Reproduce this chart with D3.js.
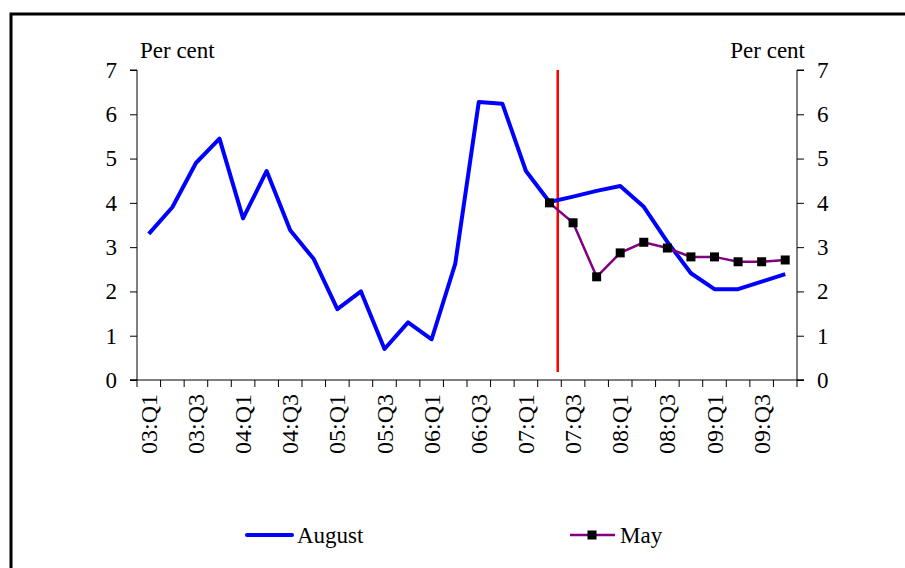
<!DOCTYPE html>
<html lang="en">
<head>
<meta charset="UTF-8">
<script src="https://d3js.org/d3.v7.min.js"></script>
<title>August vs May</title>
<style>
    html, body { margin: 0; padding: 0; background: #fff; }
    svg { display: block; }
    text { font-family: 'Liberation Serif', 'Times New Roman', serif; fill: #000; }
    .axis text { font-size: 23px; font-family: 'Liberation Serif', 'Times New Roman', serif; }
    .axis text.xlbl { font-size: 24px; }
    .axis path, .axis line { stroke: #000; stroke-width: 1; }
</style>
</head>
<body>
<svg id="canvas"></svg>
<script>
let quarters = []
const years = ['03', '04', '05', '06', '07', '08', '09']
years.forEach(y => { for (let q = 1; q <= 4; q++) quarters.push(y + ':Q' + q) })

const august = [3.3, 3.9, 4.9, 5.45, 3.65, 4.72, 3.38, 2.73, 1.6, 2.0, 0.7, 1.3, 0.92, 2.62,
                6.28, 6.24, 4.72, 4.02, 4.14, 4.27, 4.38, 3.91, 3.12, 2.41, 2.05, 2.05, 2.22, 2.39]
const may = [null, null, null, null, null, null, null, null, null, null, null, null, null, null,
             null, null, null, 4.0, 3.55, 2.33, 2.87, 3.11, 2.98, 2.78, 2.78, 2.67, 2.67, 2.71]
const yTicks = [0, 1, 2, 3, 4, 5, 6, 7]
// red marker line, in category units (index of quarter), from 0.18 to 7
const marker = { at: 17.85, from: 0.18, to: 7 }

let width = 905
let height = 568
let mLeft = 137, mRight = 797, mTop = 70, mBottom = 380

let svg = d3.select('svg').attr('width', width).attr('height', height)

// frame
svg.append('rect')
    .attr('x', 11).attr('y', 14)
    .attr('width', 1000).attr('height', 1000)
    .attr('fill', 'none').attr('stroke', '#000').attr('stroke-width', 3)

let xScale = d3.scaleBand().domain(quarters).range([mLeft, mRight]).padding(0)
let xPos = d => xScale(d) + xScale.bandwidth() / 2
let yScale = d3.scaleLinear().domain([0, 7]).range([mBottom, mTop])

// axes
let yLeft = d3.axisLeft(yScale).tickValues(yTicks).tickFormat(d3.format('d')).tickSize(7).tickPadding(13)
let yRight = d3.axisRight(yScale).tickValues(yTicks).tickFormat(d3.format('d')).tickSize(7).tickPadding(13)
svg.append('g').attr('class', 'axis').attr('transform', 'translate(' + mLeft + ',0)').call(yLeft)
    .call(g => g.select('.domain').attr('d', 'M-7,' + mTop + 'H0V' + mBottom + 'H-7'))
    .call(g => g.attr('font-family', null).attr('font-size', null))
svg.append('g').attr('class', 'axis').attr('transform', 'translate(' + mRight + ',0)').call(yRight)
    .call(g => g.select('.domain').attr('d', 'M7,' + mTop + 'H0V' + mBottom + 'H7'))
    .call(g => g.attr('font-family', null).attr('font-size', null))

// x axis: ticks on category boundaries
let xAxisG = svg.append('g').attr('class', 'axis')
xAxisG.append('line').attr('x1', mLeft - 7).attr('x2', mRight + 7)
    .attr('y1', mBottom).attr('y2', mBottom)
xAxisG.selectAll('.tick')
    .data(d3.range(quarters.length + 1))
    .enter().append('line')
    .attr('x1', i => mLeft + i * xScale.bandwidth())
    .attr('x2', i => mLeft + i * xScale.bandwidth())
    .attr('y1', mBottom).attr('y2', mBottom + 7)
xAxisG.selectAll('.xlbl')
    .data(quarters.filter((q, i) => i % 2 === 0))
    .enter().append('text')
    .attr('class', 'xlbl')
    .attr('transform', d => 'translate(' + (xPos(d) + 8) + ',' + (mBottom + 14) + ') rotate(-90)')
    .attr('text-anchor', 'end')
    .text(d => d)

// axis titles
svg.append('text').attr('x', 140).attr('y', 58).style('font-size', '23px').text('Per cent')
svg.append('text').attr('x', 805).attr('y', 58).attr('text-anchor', 'end').style('font-size', '23px').text('Per cent')

// red line
svg.append('line')
    .attr('x1', mLeft + marker.at * xScale.bandwidth()).attr('x2', mLeft + marker.at * xScale.bandwidth())
    .attr('y1', yScale(marker.to)).attr('y2', yScale(marker.from))
    .attr('stroke', '#ff0000').attr('stroke-width', 2.5)

// August line
let line = d3.line()
    .defined(d => d.v !== null)
    .x(d => xPos(d.q))
    .y(d => yScale(d.v))

let augData = quarters.map((q, i) => ({ q: q, v: august[i] }))
let mayData = quarters.map((q, i) => ({ q: q, v: may[i] }))

svg.append('path').datum(augData)
    .attr('d', line).attr('fill', 'none')
    .attr('stroke', '#0000ff').attr('stroke-width', 4)
    .attr('stroke-linejoin', 'round')

svg.append('path').datum(mayData)
    .attr('d', line).attr('fill', 'none')
    .attr('stroke', '#800080').attr('stroke-width', 2.5)

svg.selectAll('.sq')
    .data(mayData.filter(d => d.v !== null))
    .enter().append('rect')
    .attr('x', d => xPos(d.q) - 4.5)
    .attr('y', d => yScale(d.v) - 4.5)
    .attr('width', 9).attr('height', 9)
    .attr('fill', '#000')

// legend
let lg = svg.append('g')
lg.append('line').attr('x1', 247).attr('x2', 292).attr('y1', 535).attr('y2', 535)
    .attr('stroke', '#0000ff').attr('stroke-width', 4).attr('stroke-linecap', 'round')
lg.append('text').attr('x', 297).attr('y', 543).style('font-size', '23px').text('August')
lg.append('line').attr('x1', 570).attr('x2', 615).attr('y1', 535).attr('y2', 535)
    .attr('stroke', '#800080').attr('stroke-width', 2.5)
lg.append('rect').attr('x', 587.5).attr('y', 530.5).attr('width', 9).attr('height', 9).attr('fill', '#000')
lg.append('text').attr('x', 620).attr('y', 543).style('font-size', '23px').text('May')
</script>
</body>
</html>
